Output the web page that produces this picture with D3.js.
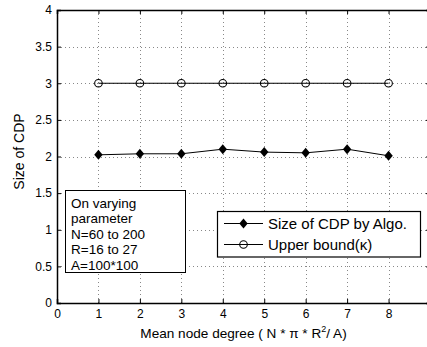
<!DOCTYPE html>
<html>
<head>
<meta charset="utf-8">
<script src="https://cdn.jsdelivr.net/npm/d3@7"></script>
<style>
  html, body { margin: 0; padding: 0; background: #fff; }
  svg { display: block; font-family: "Liberation Sans", Arial, sans-serif; }
</style>
</head>
<body>
<svg id="chart" width="427" height="347"></svg>
<script>
// ==================== DATA ====================
const degrees = [1, 2, 3, 4, 5, 6, 7, 8];
const cdpSize = [2.023, 2.037, 2.037, 2.10, 2.06, 2.05, 2.10, 2.01];
const upperBound = [3, 3, 3, 3, 3, 3, 3, 3];
const xTicks = [0, 1, 2, 3, 4, 5, 6, 7, 8, 9];
const yTicks = [0, 0.5, 1, 1.5, 2, 2.5, 3, 3.5, 4];
const seriesNames = ['Size of CDP by Algo.', 'Upper bound(\u03ba)'];
const noteLines = ['On varying', 'parameter', 'N=60 to 200', 'R=16 to 27', 'A=100*100'];

// ==================== CHART ====================
const svg = d3.select('#chart');
const plotL = 57, plotT = 10, plotR = 430, plotB = 303;

const x = d3.scaleLinear().domain([0, 9]).range([plotL, plotR]);
const y = d3.scaleLinear().domain([0, 4]).range([plotB, plotT]);

// grid
const grid = svg.append('g')
  .attr('stroke', '#888')
  .attr('stroke-width', 1)
  .attr('stroke-dasharray', '1,3');
grid.selectAll('.gx').data(xTicks.slice(1, -1)).join('line')
  .attr('x1', (d) => Math.round(x(d)) + 0.5).attr('x2', (d) => Math.round(x(d)) + 0.5)
  .attr('y1', plotT).attr('y2', plotB);
grid.selectAll('.gy').data(yTicks.slice(1, -1)).join('line')
  .attr('y1', (d) => Math.round(y(d)) + 0.5).attr('y2', (d) => Math.round(y(d)) + 0.5)
  .attr('x1', plotL).attr('x2', plotR);

// axes (inward ticks)
const axB = svg.append('g').attr('transform', `translate(0,${plotB})`)
  .call(d3.axisBottom(x).tickValues(xTicks).tickSize(-4).tickPadding(6).tickFormat(d3.format('d')));
const axT = svg.append('g').attr('transform', `translate(0,${plotT})`)
  .call(d3.axisTop(x).tickValues(xTicks).tickSize(-4).tickFormat(''));
const axL = svg.append('g').attr('transform', `translate(${plotL},0)`)
  .call(d3.axisLeft(y).tickValues(yTicks).tickSize(-4).tickPadding(5).tickFormat((d) => d));
const axR = svg.append('g').attr('transform', `translate(${plotR},0)`)
  .call(d3.axisRight(y).tickValues(yTicks).tickSize(-4).tickFormat(''));

[axB, axT, axL, axR].forEach((a) => {
  a.select('.domain').attr('stroke', '#000').attr('stroke-width', 1.5);
  a.selectAll('.tick line').attr('stroke', '#000');
  a.selectAll('.tick text').attr('fill', '#000').attr('font-size', '12px')
    .attr('font-family', '"Liberation Sans", Arial, sans-serif');
});

// series
const line = d3.line().x((d) => x(d[0])).y((d) => y(d[1]));
const cdpPts = degrees.map((d, i) => [d, cdpSize[i]]);
const ubPts = degrees.map((d, i) => [d, upperBound[i]]);

svg.append('path').datum(ubPts).attr('d', line)
  .attr('fill', 'none').attr('stroke', '#000').attr('stroke-width', 1);
svg.append('path').datum(cdpPts).attr('d', line)
  .attr('fill', 'none').attr('stroke', '#000').attr('stroke-width', 1);

const diamond = (sel, cx, cy) => sel.append('path')
  .attr('d', `M${cx},${cy - 5}L${cx + 4.2},${cy}L${cx},${cy + 5}L${cx - 4.2},${cy}Z`)
  .attr('fill', '#000');
const circle = (sel, cx, cy) => sel.append('circle')
  .attr('cx', cx).attr('cy', cy).attr('r', 3.8)
  .attr('fill', 'none').attr('stroke', '#000').attr('stroke-width', 1.1);

cdpPts.forEach((p) => diamond(svg, x(p[0]), y(p[1])));
ubPts.forEach((p) => circle(svg, x(p[0]), y(p[1])));

// note box
const note = svg.append('g');
note.append('rect').attr('x', 65.5).attr('y', 190.5).attr('width', 120).attr('height', 82)
  .attr('fill', '#fff').attr('stroke', '#000').attr('stroke-width', 1);
note.selectAll('text').data(noteLines).join('text')
  .attr('x', 71).attr('y', (d, i) => 207.5 + i * 15.5)
  .attr('font-size', '13.5px').attr('fill', '#000').text((d) => d);

// legend
const lg = svg.append('g');
lg.append('rect').attr('x', 217.5).attr('y', 211.5).attr('width', 203).attr('height', 45.5)
  .attr('fill', '#fff').attr('stroke', '#000').attr('stroke-width', 1.2);
seriesNames.forEach((name, i) => {
  const ly = 223.5 + i * 21;
  lg.append('line').attr('x1', 224).attr('x2', 263).attr('y1', ly).attr('y2', ly)
    .attr('stroke', '#000').attr('stroke-width', 1);
  if (i === 0) diamond(lg, 243.5, ly); else circle(lg, 243.5, ly);
  lg.append('text').attr('x', 268).attr('y', ly + 5.3)
    .attr('font-size', '15px').attr('fill', '#000').text(name);
});

// axis labels
const xl = svg.append('text').attr('x', 243.5).attr('y', 338)
  .attr('text-anchor', 'middle').attr('font-size', '13.6px').attr('fill', '#000');
xl.append('tspan').text('Mean node degree ( N * \u03c0 * R');
xl.append('tspan').attr('font-size', '9px').attr('dy', -6).text('2');
xl.append('tspan').attr('dy', 6).text('/ A)');

svg.append('text')
  .attr('transform', 'translate(24,151.5) rotate(-90)')
  .attr('text-anchor', 'middle').attr('font-size', '14px').attr('fill', '#000')
  .text('Size of CDP');
</script>
</body>
</html>
